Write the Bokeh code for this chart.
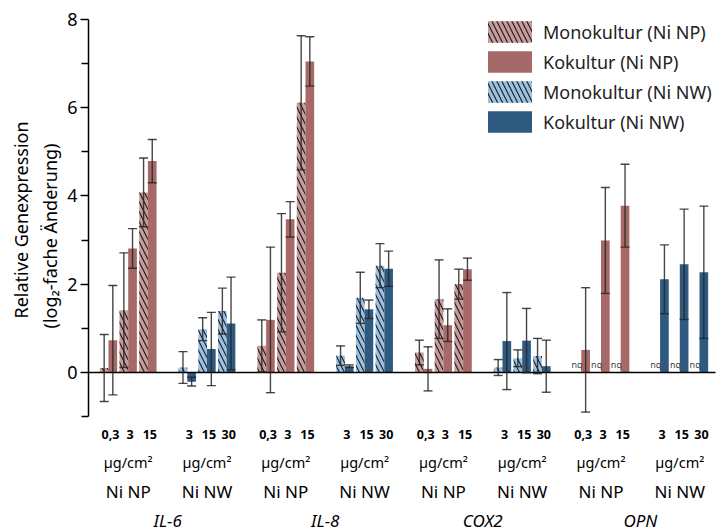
import math
import numpy as np
from bokeh.plotting import figure
from bokeh.models import (ColumnDataSource, Range1d, Whisker, TeeHead, Title,
                          Legend, FixedTicker)
from bokeh.core.properties import value
from bokeh.embed import file_html
from bokeh.resources import INLINE

# ---------------- data ----------------
genes = ["IL-6", "IL-8", "COX2", "OPN"]
materials = ["Ni NP", "Ni NW"]
conc_labels = {"Ni NP": ["0,3", "3", "15"], "Ni NW": ["3", "15", "30"]}
unit_label = "µg/cm²"

# order: for each gene -> Ni NP (3 conc), Ni NW (3 conc); None = nq
mono_mean = [0.10, 1.41, 4.08, 0.11, 0.98, 1.39,
             0.60, 2.26, 6.11, 0.38, 1.69, 2.42,
             0.45, 1.66, 2.00, 0.11, 0.32, 0.37,
             None, None, None, None, None, None]
mono_err = [0.76, 1.30, 0.78, 0.36, 0.26, 0.52,
            0.59, 1.34, 1.52, 0.22, 0.58, 0.50,
            0.28, 0.89, 0.34, 0.18, 0.19, 0.40,
            None, None, None, None, None, None]
koku_mean = [0.73, 2.81, 4.79, -0.21, 0.53, 1.11,
             1.19, 3.47, 7.05, 0.14, 1.43, 2.35,
             0.08, 1.07, 2.34, 0.71, 0.72, 0.14,
             0.51, 2.99, 3.78, 2.11, 2.45, 2.27]
koku_err = [1.24, 0.45, 0.49, 0.10, 0.83, 1.05,
            1.65, 0.40, 0.56, 0.03, 0.21, 0.40,
            0.50, 0.37, 0.25, 1.10, 0.73, 0.59,
            1.41, 1.20, 0.94, 0.78, 1.25, 1.50]

series_names = ["Monokultur (Ni NP)", "Kokultur (Ni NP)",
                "Monokultur (Ni NW)", "Kokultur (Ni NW)"]
colors = {"Monokultur (Ni NP)": "#c59b9b", "Kokultur (Ni NP)": "#a76868",
          "Monokultur (Ni NW)": "#9cc0e0", "Kokultur (Ni NW)": "#2f5a80"}

FONT = "Noto Sans"

# ---------------- layout helpers ----------------
W, H = 721, 532
LEFT = 88
ppu = 44.11
y1 = 8 + 19 / ppu
y0 = 8 - (H - 19) / ppu
slot_px = 19.7
x_start = -(108 - LEFT) / slot_px
x_end = (W - 108) / slot_px


def ydata(ys):
    return y1 - ys / ppu


def slot(g, m, c):
    return g * 8 + m * 4 + c


OFF = 0.22
BW = 0.44

p = figure(width=W, height=H, output_backend="svg", toolbar_location=None,
           x_range=Range1d(x_start, x_end), y_range=Range1d(y0, y1),
           x_axis_location=None, min_border_left=LEFT, min_border_right=0,
           min_border_top=0, min_border_bottom=0)
p.outline_line_color = None
p.grid.visible = False
p.background_fill_color = "white"

# build sources
src = {n: dict(x=[], top=[], upper=[], lower=[]) for n in series_names}
nq = dict(x=[], y=[], t=[])
i = 0
for g in range(len(genes)):
    for m, mat in enumerate(materials):
        for c in range(3):
            s = slot(g, m, c)
            mn, me = mono_mean[i], mono_err[i]
            kn, ke = koku_mean[i], koku_err[i]
            mono_name = "Monokultur (%s)" % mat
            koku_name = "Kokultur (%s)" % mat
            if mn is None:
                nq["x"].append(s - OFF)
                nq["y"].append(0.0)
                nq["t"].append("nq")
            else:
                d = src[mono_name]
                d["x"].append(s - OFF); d["top"].append(mn)
                d["upper"].append(mn + me); d["lower"].append(mn - me)
            d = src[koku_name]
            d["x"].append(s + OFF); d["top"].append(kn)
            d["upper"].append(kn + ke); d["lower"].append(kn - ke)
            i += 1

legend_items = []
renderers = {}
for n in series_names:
    cds = ColumnDataSource(src[n])
    hatched = n.startswith("Mono")
    r = p.vbar(x="x", top="top", bottom=0, width=BW, source=cds,
               fill_color=colors[n], line_color=None,
               hatch_pattern="\\" if hatched else " ",
               hatch_color="black", hatch_scale=10, hatch_weight=1.1,
               hatch_alpha=0.85 if hatched else 0)
    renderers[n] = (r, cds)
    legend_items.append((n, [r]))

# zero line
p.line(x=[x_start, (715 - 108) / slot_px], y=[0, 0], line_color="black",
       line_width=1.5)

for n in series_names:
    r, cds = renderers[n]
    w = Whisker(base="x", upper="upper", lower="lower", source=cds,
                line_color="#262626", line_width=1.4, line_alpha=0.85,
                upper_head=TeeHead(size=9, line_color="#262626", line_width=1.4, line_alpha=0.85),
                lower_head=TeeHead(size=9, line_color="#262626", line_width=1.4, line_alpha=0.85))
    w.level = "overlay"
    p.add_layout(w)

# nq labels
p.text(x="x", y="y", text="t", source=ColumnDataSource(nq),
       text_font=value(FONT), text_font_size="9px", text_color="#444444",
       text_align="center", text_baseline="bottom", y_offset=-1)

# y axis
ax = p.yaxis[0]
ax.ticker = FixedTicker(ticks=[0, 2, 4, 6, 8], minor_ticks=[-1, 1, 3, 5, 7])
ax.bounds = (-1, 8)
ax.axis_line_color = "black"
ax.axis_line_width = 1.5
ax.major_tick_line_color = "black"
ax.major_tick_line_width = 1.5
ax.minor_tick_line_color = "black"
ax.minor_tick_line_width = 1.3
ax.major_tick_in = 0
ax.major_tick_out = 8
ax.minor_tick_in = 0
ax.minor_tick_out = 7
ax.major_label_text_font = FONT
ax.major_label_text_font_size = "18px"
ax.major_label_text_color = "black"
ax.major_label_standoff = 3

# y-axis title (two lines)
for txt, off, so in [("(log₂-fache Änderung)", 204, 6), ("Relative Genexpression", 214, 0)]:
    t = Title(text=txt, align="left", offset=off, standoff=so,
              text_font=FONT, text_font_size="18px", text_font_style="normal",
              text_color="black")
    p.add_layout(t, "left")

# category labels below the axis
row1 = dict(x=[], y=[], t=[])
row2 = dict(x=[], y=[], t=[])
row3 = dict(x=[], y=[], t=[])
row4 = dict(x=[], y=[], t=[])
for g, gene in enumerate(genes):
    for m, mat in enumerate(materials):
        for c, cl in enumerate(conc_labels[mat]):
            row1["x"].append(slot(g, m, c) + 0.1)
            row1["y"].append(ydata(434))
            row1["t"].append(cl)
        row2["x"].append(slot(g, m, 1)); row2["y"].append(ydata(461)); row2["t"].append(unit_label)
        row3["x"].append(slot(g, m, 1)); row3["y"].append(ydata(491)); row3["t"].append(mat)
    row4["x"].append(g * 8 + 3); row4["y"].append(ydata(520)); row4["t"].append(gene)

for rows, size, style in [(row1, "12.5px", "bold"), (row2, "14.5px", "normal"),
                          (row3, "17px", "normal"), (row4, "17px", "italic")]:
    p.text(x="x", y="y", text="t", source=ColumnDataSource(rows),
           text_font=value(FONT), text_font_size=size, text_font_style=style,
           text_align="center", text_baseline="middle", text_color="black")

legend = Legend(items=legend_items, location=(394, 281 + 116))
legend.glyph_width = 55
legend.glyph_height = 27
legend.label_height = 27
legend.spacing = 3
legend.padding = 0
legend.margin = 0
legend.label_standoff = 6
legend.label_text_font = FONT
legend.label_text_font_size = "18px"
legend.label_text_color = "#222222"
legend.border_line_alpha = 0
legend.background_fill_alpha = 0
p.add_layout(legend)

open("out.html", "w").write(file_html(p, INLINE))
